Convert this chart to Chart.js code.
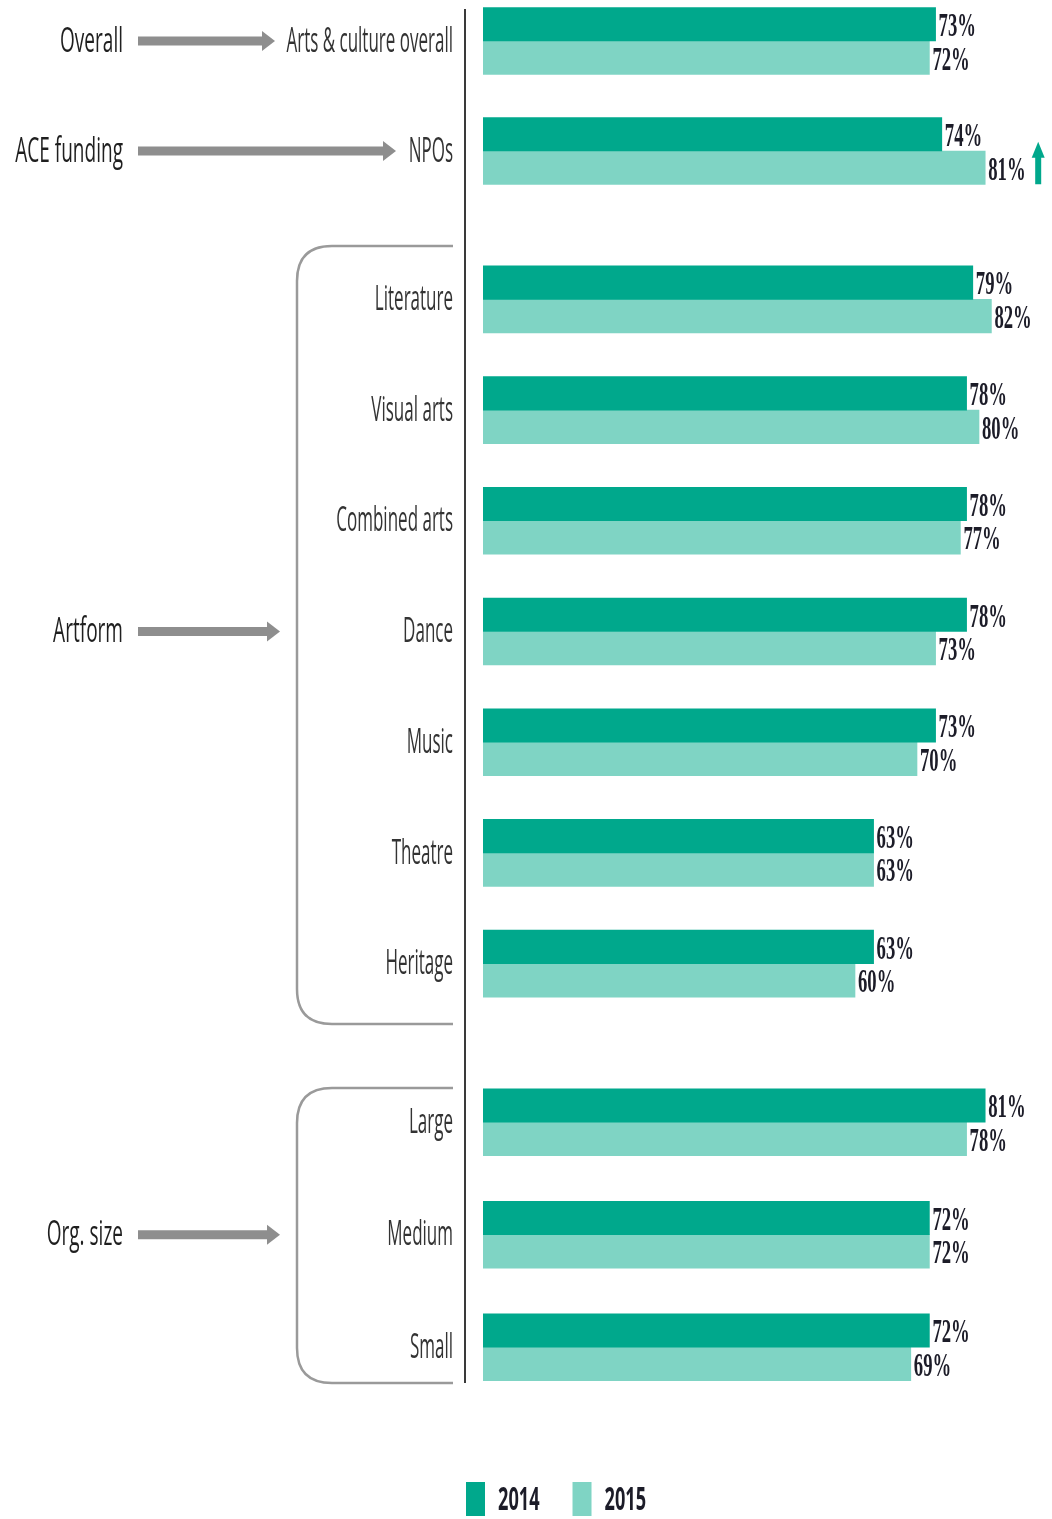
<!DOCTYPE html>
<html><head><meta charset="utf-8">
<script src="https://cdn.jsdelivr.net/npm/chart.js@4.4.1/dist/chart.umd.min.js"></script>
<style>
html,body{margin:0;padding:0;background:#fff;}
#page{position:relative;width:1052px;height:1519px;overflow:hidden;background:#fff;}
.cw{position:absolute;left:0;width:1052px;}
#deco{position:absolute;left:0;top:0;pointer-events:none;}
</style></head><body>
<div id="page">
  <div class="cw" id="wA" style="top:-14px;height:220px"><canvas id="cA"></canvas></div>
  <div class="cw" id="wB" style="top:244px;height:775px"><canvas id="cB"></canvas></div>
  <div class="cw" id="wC" style="top:1066px;height:453px"><canvas id="cC"></canvas></div>
  <svg id="deco" width="1052" height="1519">
    <line x1="465" y1="9" x2="465" y2="1383" stroke="#3a3a3a" stroke-width="2"/>
    <path d="M453 246 H332 Q297 246 297 281 V989 Q297 1024 332 1024 H453" fill="none" stroke="#9a9a9a" stroke-width="2.5"/>
    <path d="M453 1088 H332 Q297 1088 297 1123 V1348 Q297 1383 332 1383 H453" fill="none" stroke="#9a9a9a" stroke-width="2.5"/>
  </svg>
</div>
<script>
// ---- data ----
const seriesLabels = ['2014', '2015'];
const overallCategories = ['Arts & culture overall', 'NPOs'];
const overall2014 = [73, 74];
const overall2015 = [72, 81];
const artformCategories = ['Literature', 'Visual arts', 'Combined arts', 'Dance', 'Music', 'Theatre', 'Heritage'];
const artform2014 = [79, 78, 78, 78, 73, 63, 63];
const artform2015 = [82, 80, 77, 73, 70, 63, 60];
const sizeCategories = ['Large', 'Medium', 'Small'];
const size2014 = [81, 72, 72];
const size2015 = [78, 72, 69];
const groupNames = ['Overall', 'ACE funding', 'Artform', 'Org. size'];
const xRange = [0, 90];

const DARK = '#00a88c';
const LIGHT = '#7fd4c4';

function drawSqueezed(ctx, text, x, y, font, sx, align, color) {
  ctx.save();
  ctx.font = font;
  ctx.fillStyle = color;
  ctx.textBaseline = 'middle';
  ctx.textAlign = align;
  ctx.translate(x, y);
  ctx.scale(sx, 1);
  ctx.fillText(text, 0, 0);
  ctx.restore();
}

const LABEL_FONT = '34px "Open Sans"';
const LABEL_SX = 0.5;
const GROUP_SX = 0.56;

const rowLabels = {
  id: 'rowLabels',
  afterDraw(chart, args, opts) {
    const ctx = chart.ctx;
    const ys = chart.scales.y;
    chart.data.labels.forEach((lab, i) => {
      drawSqueezed(ctx, lab, 453, ys.getPixelForValue(i) + 1, LABEL_FONT, LABEL_SX, 'right', '#333');
    });
    chart.data.datasets.forEach((ds, di) => {
      const meta = chart.getDatasetMeta(di);
      meta.data.forEach((bar, i) => {
        drawSqueezed(ctx, ds.data[i] + '%', bar.x + 3, bar.y + 3, 'bold 34px "Liberation Serif"', 0.55, 'left', '#1c1c28');
      });
    });
    (opts.groups || []).forEach(g => {
      const y = ys.getPixelForValue(g.index);
      drawSqueezed(ctx, g.text, 123, y + 1, LABEL_FONT, GROUP_SX, 'right', '#1f1f1f');
      ctx.save();
      ctx.fillStyle = '#8e8e8e';
      ctx.fillRect(138, y - 4.5, g.arrowEnd - 12 - 138, 9);
      ctx.beginPath();
      ctx.moveTo(g.arrowEnd - 13, y - 10);
      ctx.lineTo(g.arrowEnd, y);
      ctx.lineTo(g.arrowEnd - 13, y + 10);
      ctx.closePath();
      ctx.fill();
      ctx.restore();
    });
    if (opts.upArrow) {
      const bar = chart.getDatasetMeta(opts.upArrow.dataset).data[opts.upArrow.index];
      const x = bar.x + 53;
      const bottom = bar.y + 16.5;
      ctx.save();
      ctx.fillStyle = DARK;
      ctx.fillRect(x - 3, bar.y - 12, 6, bottom - (bar.y - 12));
      ctx.beginPath();
      ctx.moveTo(x - 6.5, bar.y - 10);
      ctx.lineTo(x, bar.y - 26);
      ctx.lineTo(x + 6.5, bar.y - 10);
      ctx.closePath();
      ctx.fill();
      ctx.restore();
    }
    if (opts.legend) {
      let x = 466;
      const top = chart.chartArea.bottom + 78.5;
      chart.data.datasets.forEach(ds => {
        ctx.fillStyle = ds.backgroundColor;
        ctx.fillRect(x, top, 19, 34);
        x += 19 + 13;
        ctx.save();
        ctx.font = 'bold 33px "Open Sans"';
        const w = ctx.measureText(ds.label).width * 0.55;
        ctx.restore();
        drawSqueezed(ctx, ds.label, x, top + 19, 'bold 33px "Open Sans"', 0.55, 'left', '#1c1c28');
        x += w + 33;
      });
    }
  }
};

function makeChart(id, labels, d14, d15, extra) {
  return new Chart(document.getElementById(id), {
    type: 'bar',
    data: {
      labels: labels,
      datasets: [
        { label: seriesLabels[0], data: d14, backgroundColor: DARK, barThickness: 33.5, borderWidth: 0 },
        { label: seriesLabels[1], data: d15, backgroundColor: LIGHT, barThickness: 33.5, borderWidth: 0 }
      ]
    },
    options: {
      indexAxis: 'y',
      responsive: true,
      maintainAspectRatio: false,
      animation: false,
      devicePixelRatio: 1,
      layout: { padding: { left: 483, right: 11, top: 0, bottom: extra.bottom || 0 } },
      scales: {
        x: { display: false, min: xRange[0], max: xRange[1] },
        y: { display: false }
      },
      plugins: {
        legend: { display: false },
        tooltip: { enabled: false },
        rowLabels: extra.opts
      }
    },
    plugins: [rowLabels]
  });
}

makeChart('cA', overallCategories, overall2014, overall2015, {
  opts: {
    groups: [
      { text: groupNames[0], index: 0, arrowEnd: 275 },
      { text: groupNames[1], index: 1, arrowEnd: 396 }
    ],
    upArrow: { dataset: 1, index: 1 }
  }
});
makeChart('cB', artformCategories, artform2014, artform2015, {
  opts: { groups: [{ text: groupNames[2], index: 3, arrowEnd: 280 }] }
});
makeChart('cC', sizeCategories, size2014, size2015, {
  bottom: 115.5,
  opts: { groups: [{ text: groupNames[3], index: 1, arrowEnd: 280 }], legend: true }
});
</script>
</body></html>
